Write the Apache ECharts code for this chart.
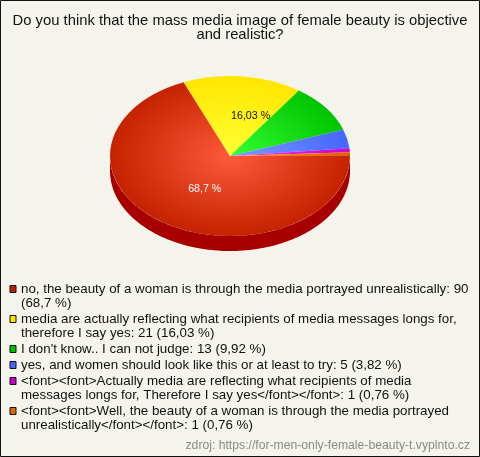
<!DOCTYPE html>
<html><head><meta charset="utf-8">
<style>html,body{margin:0;padding:0;background:#f5f4ec}#c{width:480px;height:457px}</style>
<script src="https://cdn.jsdelivr.net/npm/echarts@6/dist/echarts.min.js"></script>
</head><body><div id="c"></div>
<script>
const titleText = 'Do you think that the mass media image of female beauty is objective\nand realistic?';
const categories = [
 'no, the beauty of a woman is through the media portrayed unrealistically: 90\n(68,7 %)',
 'media are actually reflecting what recipients of media messages longs for,\ntherefore I say yes: 21 (16,03 %)',
 "I don't know.. I can not judge: 13 (9,92 %)",
 'yes, and women should look like this or at least to try: 5 (3,82 %)',
 '<font><font>Actually media are reflecting what recipients of media\nmessages longs for, Therefore I say yes</font></font>: 1 (0,76 %)',
 '<font><font>Well, the beauty of a woman is through the media portrayed\nunrealistically</font></font>: 1 (0,76 %)'
];
const values = [90, 21, 13, 5, 1, 1];
const sliceLabels = ['68,7 %', '16,03 %', '', '', '', ''];
const labelColors = ['#ffffff', '#111111', '#111111', '#111111', '#111111', '#111111'];
const swatchColors = ['#c02000', '#ffe800', '#00c000', '#4466ff', '#c800c8', '#e06800'];
const centerColors = ['#ff5a3a', '#ffff33', '#33ff33', '#7a9cff', '#ff33ff', '#ff9a20'];
const edgeColors = ['#c42200', '#ffe600', '#00c400', '#4466ff', '#cc00cc', '#e06000'];
const sideColors = ['#a80000', '#b0a000', '#008000', '#2040b0', '#900090', '#a04000'];
const legendCenters = [289, 319, 349, 365, 381, 411];
const sourceText = 'zdroj: https://for-men-only-female-beauty-t.vyplnto.cz';

const FONT = '"Liberation Sans", Arial, sans-serif';
const CX = 230, CY = 156, RX = 120, RY = 80, DEPTH = 15, LINE = 14;
const total = values.reduce((a, b) => a + b, 0);
const starts = values.map((_, i) => values.slice(0, i).reduce((a, b) => a + b, 0) / total * Math.PI * 2);
const labelShift = [[6, 2], [14.5, -3], [0, 0], [0, 0], [0, 0], [0, 0]];

function sidePolygon(a0, a1) {
  const lo = Math.max(a0, 0), hi = Math.min(a1, Math.PI);
  if (hi <= lo) return null;
  const pts = [], n = 120;
  for (let k = 0; k <= n; k++) {
    const a = lo + (hi - lo) * k / n;
    pts.push([CX + RX * Math.cos(a), CY + RY * Math.sin(a)]);
  }
  for (let k = n; k >= 0; k--) {
    const a = lo + (hi - lo) * k / n;
    pts.push([CX + RX * Math.cos(a), CY + DEPTH + RY * Math.sin(a)]);
  }
  return pts;
}

const series = categories.map((name, i) => ({
  type: 'custom',
  name,
  coordinateSystem: 'none',
  silent: true,
  animation: false,
  itemStyle: { color: swatchColors[i] },
  data: [[values[i]]],
  renderItem: function (params, api) {
    const share = api.value(0) / total * Math.PI * 2;
    const a0 = starts[i], a1 = a0 + share;
    const children = [];
    const side = sidePolygon(a0, a1);
    if (side) children.push({
      type: 'polygon', shape: { points: side }, style: { fill: sideColors[i] }
    });
    children.push({
      type: 'group', x: CX, y: CY, scaleX: 1, scaleY: RY / RX,
      children: [{
        type: 'sector',
        shape: { cx: 0, cy: 0, r0: 0, r: RX, startAngle: a0, endAngle: a1, clockwise: true },
        style: { fill: { type: 'radial', x: 0, y: 0, r: RX, global: true,
          colorStops: [{ offset: 0, color: centerColors[i] }, { offset: 1, color: edgeColors[i] }] } }
      }]
    });
    if (sliceLabels[i]) {
      const mid = (a0 + a1) / 2;
      children.push({
        type: 'text', z2: 50,
        x: CX + RX * 0.47 * Math.cos(mid) + labelShift[i][0],
        y: CY + RY * 0.47 * Math.sin(mid) + labelShift[i][1],
        style: { text: sliceLabels[i], fill: labelColors[i], font: '10.67px ' + FONT, align: 'center', verticalAlign: 'middle' }
      });
    }
    return { type: 'group', children };
  }
}));

const legends = categories.map((name, i) => {
  const multi = name.indexOf('\n') >= 0;
  const height = (multi ? 3 : 1) * LINE;
  return {
    data: [name],
    left: 9.5, top: legendCenters[i] - height / 2, padding: 0,
    orient: 'vertical', selectedMode: false,
    icon: 'rect', itemWidth: 6, itemHeight: 7,
    itemStyle: { borderColor: '#111111', borderWidth: 1 },
    formatter: n => (multi ? '\n' : '') + n,
    textStyle: { fontFamily: FONT, fontSize: 13.33, color: '#111111', lineHeight: LINE }
  };
});

const chart = echarts.init(document.getElementById('c'), null, { renderer: 'canvas' });
chart.setOption({
  backgroundColor: '#f5f4ec',
  animation: false,
  title: [
    { text: titleText, left: 240, top: 14, textAlign: 'center', padding: 0,
      textStyle: { fontFamily: FONT, fontSize: 14.8, fontWeight: 'normal', color: '#111111', lineHeight: 14 } },
    { text: sourceText, right: 10, top: 439, padding: 0,
      textStyle: { fontFamily: FONT, fontSize: 12.2, fontWeight: 'normal', color: '#8a8a8a', lineHeight: 14 } }
  ],
  legend: legends,
  series,
  graphic: [{
    type: 'rect', silent: true, z: 100,
    shape: { x: 0.5, y: 0.5, width: 479, height: 456 },
    style: { fill: 'none', stroke: '#111111', lineWidth: 1 }
  }]
});
</script></body></html>
